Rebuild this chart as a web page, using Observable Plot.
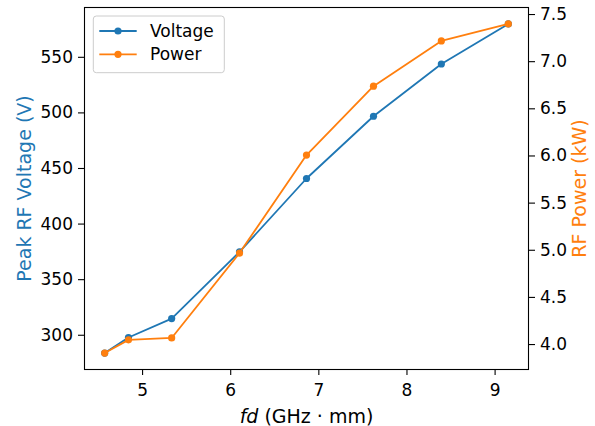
<!DOCTYPE html>
<html><head><meta charset="utf-8">
<script src="https://cdn.jsdelivr.net/npm/d3@7"></script>
<script src="https://cdn.jsdelivr.net/npm/@observablehq/plot@0.6"></script>
<style>body{margin:0;background:#fff;} #chart{width:595px;height:426px;}</style>
</head><body><div id="chart"></div>
<script>
const fd = [4.57, 4.84, 5.33, 6.10, 6.86, 7.62, 8.39, 9.15];
const voltage = [284, 298, 315, 375, 441, 497, 544, 580];
const power = [3.91, 4.05, 4.07, 4.97, 6.01, 6.74, 7.22, 7.40];
const xTicks = [5, 6, 7, 8, 9];
const vTicks = [300, 350, 400, 450, 500, 550];
const pTicks = [4.0, 4.5, 5.0, 5.5, 6.0, 6.5, 7.0, 7.5];
const seriesNames = ["Voltage", "Power"];
const blue = "#1f77b4", orange = "#ff7f0e";
const FONT = "DejaVu Sans";

function pad(vals){const lo=d3.min(vals), hi=d3.max(vals), m=(hi-lo)*0.05; return [lo-m, hi+m];}
const xDom = pad(fd), vDom = pad(voltage), pDom = pad(power);
const toV = p => vDom[0] + (p - pDom[0]) * (vDom[1]-vDom[0]) / (pDom[1]-pDom[0]);
const fromV = v => pDom[0] + (v - vDom[0]) * (pDom[1]-pDom[0]) / (vDom[1]-vDom[0]);

const rows = fd.map((x,i)=>({x, v: voltage[i], p: toV(power[i])}));

const chart = Plot.plot({
  width: 595, height: 426,
  marginLeft: 84, marginRight: 67, marginTop: 7, marginBottom: 57,
  style: {fontFamily: FONT, fontSize: "17px", color: "black", background: "white"},
  x: {domain: xDom},
  y: {domain: vDom},
  marks: [
    Plot.axisX({ticks: xTicks, tickSize: 6, tickPadding: 8, label: null, tickFormat: d => String(d), strokeWidth: 1.1}),
    Plot.axisY({ticks: vTicks, tickSize: 6, tickPadding: 5.5, label: null, tickFormat: d => String(d), strokeWidth: 1.1}),
    Plot.axisY(pTicks.map(toV), {anchor: "right", tickSize: 6, tickPadding: 5.5, label: null, tickFormat: d => fromV(d).toFixed(1), strokeWidth: 1.1}),
    Plot.line(rows, {x: "x", y: "v", stroke: blue, strokeWidth: 1.8}),
    Plot.dot(rows, {x: "x", y: "v", fill: blue, r: 3.6}),
    Plot.line(rows, {x: "x", y: "p", stroke: orange, strokeWidth: 1.8}),
    Plot.dot(rows, {x: "x", y: "p", fill: orange, r: 3.6}),
    Plot.frame({stroke: "black", strokeWidth: 1.1}),
    Plot.text(["Peak RF Voltage (V)"], {frameAnchor: "left", dx: -60, rotate: -90, fill: blue, fontSize: 19, textAnchor: "middle", lineAnchor: "middle"}),
    Plot.text(["RF Power (kW)"], {frameAnchor: "right", dx: 51, rotate: -90, fill: orange, fontSize: 19, textAnchor: "middle", lineAnchor: "middle"}),
    Plot.text(["fd (GHz · mm)"], {frameAnchor: "bottom", dy: 47, fill: "black", fontSize: 19, textAnchor: "middle", lineAnchor: "middle"})
  ]
});
document.getElementById("chart").appendChild(chart);

// italic "fd"
d3.select(chart).selectAll("text").each(function(){
  if (this.textContent === "fd (GHz · mm)") {
    this.textContent = "";
    d3.select(this).append("tspan").attr("font-style", "italic").text("fd");
    d3.select(this).append("tspan").text(" (GHz · mm)");
  }
});

// legend
const svg = d3.select(chart);
const lg = svg.append("g").attr("font-family", FONT).attr("font-size", 17).attr("text-anchor", "start");
const lx = 84 + 9.3, ly = 7 + 9;
lg.append("rect").attr("x", lx).attr("y", ly).attr("width", 131).attr("height", 56.7)
  .attr("rx", 3).attr("fill", "white").attr("fill-opacity", 0.8).attr("stroke", "#cccccc").attr("stroke-width", 1);
[blue, orange].forEach((c, i) => {
  const cy = ly + 15 + i * 23.3;
  lg.append("line").attr("x1", lx + 6).attr("x2", lx + 43.4).attr("y1", cy).attr("y2", cy).attr("stroke", c).attr("stroke-width", 1.8);
  lg.append("circle").attr("cx", lx + 24.7).attr("cy", cy).attr("r", 3.6).attr("fill", c);
  lg.append("text").attr("x", lx + 56.7).attr("y", cy).attr("dy", "0.36em").attr("fill", "black").attr("text-anchor", "start").text(seriesNames[i]);
});
</script>
</body></html>
